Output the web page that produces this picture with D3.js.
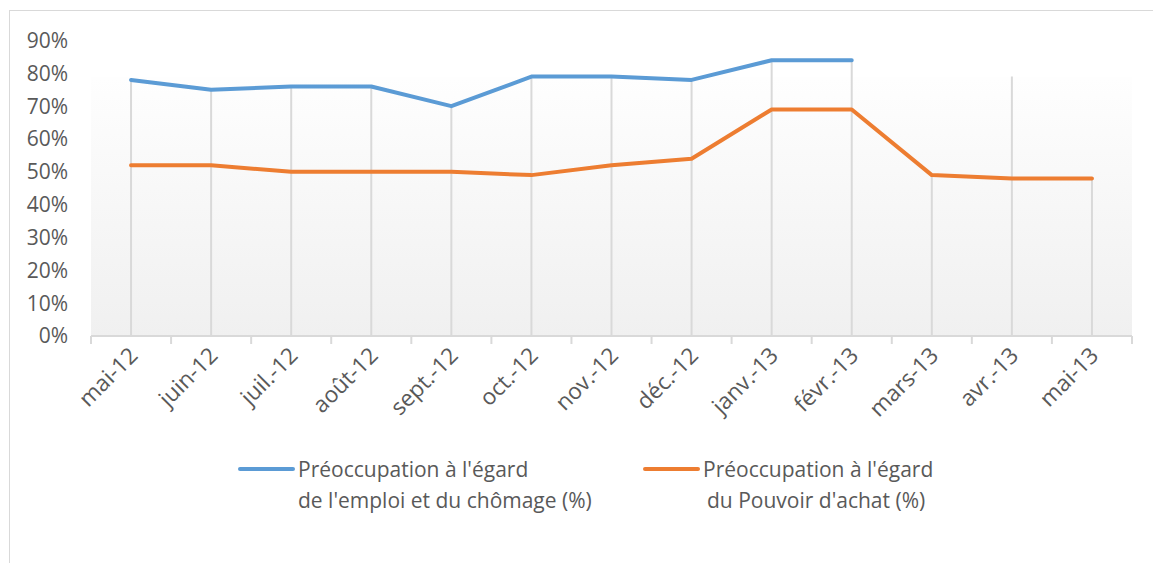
<!DOCTYPE html>
<html>
<head>
<meta charset="utf-8">
<script src="https://cdn.jsdelivr.net/npm/d3@7"></script>
<style>
  body { margin: 0; background: #fff; }
  text { font-family: "Open Sans", sans-serif; fill: #595959; }
</style>
</head>
<body>
<script>
/*
DATA
*/
const months = ["mai-12", "juin-12", "juil.-12", "août-12", "sept.-12", "oct.-12",
  "nov.-12", "déc.-12", "janv.-13", "févr.-13", "mars-13", "avr.-13", "mai-13"]
const emploi = [78, 75, 76, 76, 70, 79, 79, 78, 84, 84, null, null, null]
const pouvoir = [52, 52, 50, 50, 50, 49, 52, 54, 69, 69, 49, 48, 48]
// drop line at avr.-13 reaches the top of the plot area
const dropOverride = {"avr.-13": 79}
const yTicks = [0, 10, 20, 30, 40, 50, 60, 70, 80, 90]
const legendLabels = [
  ["Préoccupation à l'égard", "de l'emploi et du chômage (%)"],
  ["Préoccupation à l'égard", "du Pouvoir d'achat (%)"]
]
const colors = ["#5B9BD5", "#ED7D31"]

/*
SET UP
*/
const w = 1153
const h = 563
const plot = ({left: 91, right: 1132, top: 77, bottom: 336})

const svg = d3.select("body")
  .append("svg")
  .attr("width", w)
  .attr("height", h);

// chart border
svg.append("rect")
  .attr("x", 9.5).attr("y", 10.5)
  .attr("width", w).attr("height", h)
  .attr("fill", "none")
  .attr("stroke", "#d9d9d9");

const x = d3.scaleBand()
  .domain(months)
  .range([plot.left, plot.right]);

const y = d3.scaleLinear()
  .domain([0, 90])
  .range([plot.bottom, 40.5]);

const cx = (m) => x(m) + x.bandwidth() / 2

/*
PLOT AREA
*/
const grad = svg.append("defs").append("linearGradient")
  .attr("id", "bg")
  .attr("x1", 0).attr("y1", 0).attr("x2", 0).attr("y2", 1);
grad.append("stop").attr("offset", 0).attr("stop-color", "#fefefe");
grad.append("stop").attr("offset", 1).attr("stop-color", "#f0f0f0");

svg.append("rect")
  .attr("x", plot.left)
  .attr("y", plot.top)
  .attr("width", plot.right - plot.left)
  .attr("height", plot.bottom - plot.top)
  .attr("fill", "url(#bg)");

// drop lines
svg.selectAll(".drop")
  .data(months)
  .join("line")
  .attr("class", "drop")
  .attr("x1", cx).attr("x2", cx)
  .attr("y1", (d, i) => y(dropOverride[d] || d3.max([emploi[i], pouvoir[i]])))
  .attr("y2", plot.bottom)
  .attr("stroke", "#d9d9d9")
  .attr("stroke-width", 2);

/*
AXES
*/
svg.append("line")
  .attr("x1", plot.left).attr("x2", plot.right)
  .attr("y1", plot.bottom).attr("y2", plot.bottom)
  .attr("stroke", "#d9d9d9")
  .attr("stroke-width", 2);

const tickXs = months.map((m) => x(m)).concat([plot.right])
svg.selectAll(".xtick")
  .data(tickXs)
  .join("line")
  .attr("class", "xtick")
  .attr("x1", (d) => d).attr("x2", (d) => d)
  .attr("y1", plot.bottom).attr("y2", plot.bottom + 8)
  .attr("stroke", "#d9d9d9")
  .attr("stroke-width", 2);

svg.selectAll(".xlabel")
  .data(months)
  .join("text")
  .attr("class", "xlabel")
  .attr("text-anchor", "end")
  .attr("font-size", 22.5)
  .attr("transform", (d) => `translate(${cx(d) + 8},${plot.bottom + 21}) rotate(-45)`)
  .text((d) => d);

svg.selectAll(".ylabel")
  .data(yTicks)
  .join("text")
  .attr("class", "ylabel")
  .attr("x", 68)
  .attr("y", (d) => y(d))
  .attr("dy", "0.35em")
  .attr("text-anchor", "end")
  .attr("font-size", 21)
  .text((d) => d + "%");

/*
LINES
*/
const line = d3.line()
  .defined((d) => d[1] != null)
  .x((d) => cx(d[0]))
  .y((d) => y(d[1]));

[emploi, pouvoir].forEach((series, k) => {
  svg.append("path")
    .datum(months.map((m, i) => [m, series[i]]))
    .attr("d", line)
    .attr("fill", "none")
    .attr("stroke", colors[k])
    .attr("stroke-width", 4)
    .attr("stroke-linejoin", "round")
    .attr("stroke-linecap", "round");
});

/*
LEGEND
*/
const legendX = [240, 645]
legendLabels.forEach((lines, k) => {
  svg.append("line")
    .attr("x1", legendX[k]).attr("x2", legendX[k] + 53)
    .attr("y1", 469).attr("y2", 469)
    .attr("stroke", colors[k])
    .attr("stroke-width", 4)
    .attr("stroke-linecap", "round");
  svg.append("text")
    .attr("x", legendX[k] + 58)
    .attr("y", 477)
    .attr("font-size", 21)
    .text(lines[0]);
  svg.append("text")
    .attr("x", legendX[k] + 58 + (k === 1 ? 4 : 0))
    .attr("y", 508)
    .attr("font-size", 21)
    .text(lines[1]);
});
</script>
</body>
</html>
